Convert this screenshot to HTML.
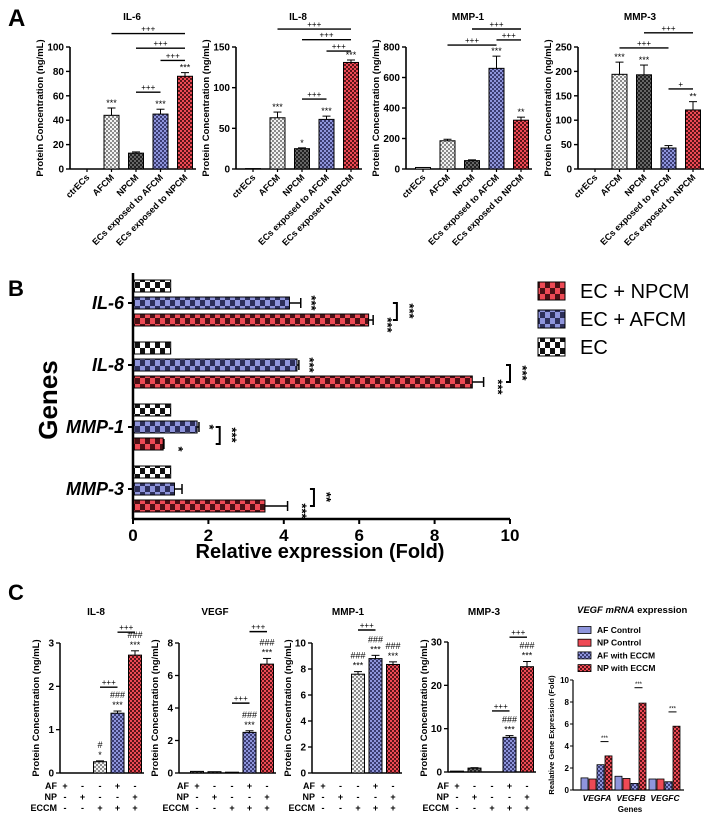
<!DOCTYPE html>
<html><head><meta charset="utf-8">
<style>
html,body{margin:0;padding:0;background:#fff;}
svg{display:block;font-family:"Liberation Sans",Arial,sans-serif;}
</style></head>
<body>
<svg id="fig" width="708" height="815" viewBox="0 0 708 815" xmlns="http://www.w3.org/2000/svg">
<defs>
<pattern id="pLight" width="4" height="4" patternUnits="userSpaceOnUse"><rect width="4" height="4" fill="#f2f2f2"/><rect width="2" height="2" fill="#8a8a8a"/><rect x="2" y="2" width="2" height="2" fill="#8a8a8a"/></pattern>
<pattern id="pDark" width="4" height="4" patternUnits="userSpaceOnUse"><rect width="4" height="4" fill="#666"/><rect width="2" height="2" fill="#222"/><rect x="2" y="2" width="2" height="2" fill="#222"/></pattern>
<pattern id="pBlue" width="4" height="4" patternUnits="userSpaceOnUse"><rect width="4" height="4" fill="#8f95dc"/><rect width="2" height="2" fill="#3b3d73"/><rect x="2" y="2" width="2" height="2" fill="#3b3d73"/></pattern>
<pattern id="pRed" width="4" height="4" patternUnits="userSpaceOnUse"><rect width="4" height="4" fill="#ee4a55"/><rect width="2" height="2" fill="#5a1418"/><rect x="2" y="2" width="2" height="2" fill="#5a1418"/></pattern>
<pattern id="bWhite" width="10" height="12" patternUnits="userSpaceOnUse"><rect width="10" height="12" fill="#fff"/><rect width="5" height="6" fill="#111"/><rect x="5" y="6" width="5" height="6" fill="#111"/></pattern>
<pattern id="bBlue" width="10" height="12" patternUnits="userSpaceOnUse"><rect width="10" height="12" fill="#8f95dc"/><rect width="5" height="6" fill="#2d2f5a"/><rect x="5" y="6" width="5" height="6" fill="#2d2f5a"/></pattern>
<pattern id="bRed" width="10" height="12" patternUnits="userSpaceOnUse"><rect width="10" height="12" fill="#ee4a55"/><rect width="5" height="6" fill="#4a1014"/><rect x="5" y="6" width="5" height="6" fill="#4a1014"/></pattern>
</defs>
<text x="8" y="26" font-size="24" font-weight="bold">A</text>
<text x="8" y="296" font-size="22" font-weight="bold">B</text>
<text x="8" y="600" font-size="22" font-weight="bold">C</text>
</svg>
<script>
// ---------- Panel A data ----------
const catsA = ['ctrECs','AFCM','NPCM','ECs exposed to AFCM','ECs exposed to NPCM'];
const il6Vals = [0, 44, 13, 45, 76];
const il6Errs = [0, 6, 1, 4, 3];
const il6Stars = ['', '***', '', '***', '***'];
const il8Vals = [0.5, 63, 25, 61, 131];
const il8Errs = [0, 7, 1, 4, 3];
const il8Stars = ['', '***', '*', '***', '***'];
const mmp1Vals = [10, 185, 55, 660, 320];
const mmp1Errs = [0, 10, 5, 80, 20];
const mmp1Stars = ['', '', '', '***', '**'];
const mmp3Vals = [0, 194, 193, 43, 121];
const mmp3Errs = [0, 25, 20, 5, 17];
const mmp3Stars = ['', '***', '***', '', '**'];
const il6Ticks = [0, 20, 40, 60, 80, 100];
const il8Ticks = [0, 50, 100, 150];
const mmp1Ticks = [0, 200, 400, 600, 800];
const mmp3Ticks = [0, 50, 100, 150, 200, 250];
const il6Sigs = [[1,4,111,'+++'],[2,4,99,'+++'],[3,4,89,'+++'],[2,3,63,'+++']];
const il8Sigs = [[1,4,172,'+++'],[2,4,159,'+++'],[3,4,145,'+++'],[2,3,86,'+++']];
const mmp1Sigs = [[2,4,918,'+++'],[3,4,846,'+++'],[1,3,813,'+++']];
const mmp3Sigs = [[2,4,279,'+++'],[1,3,248,'+++'],[3,4,164,'+']];

// ---------- Panel B data ----------
const genesB = ['IL-6','IL-8','MMP-1','MMP-3'];
const ecVals = [1, 1, 1, 1];
const afcmVals = [4.15, 4.35, 1.7, 1.1];
const afcmErrs = [0.3, 0.05, 0.05, 0.2];
const npcmVals = [6.25, 9.0, 0.8, 3.5];
const npcmErrs = [0.12, 0.3, 0.02, 0.6];
const afcmStars = ['***','***','*',''];
const npcmStars = ['***','***','*','***'];
const bracketPos = [7.0, 10.0, 2.3, 4.8];
const bracketStars = ['***','***','***','**'];
const bTicks = [0, 2, 4, 6, 8, 10];

// ---------- Panel C data ----------
const afRow = ['+','-','-','+','-'];
const npRow = ['-','+','-','-','+'];
const eccmRow = ['-','-','+','+','+'];
const cIl8Vals = [0, 0, 0.26, 1.38, 2.72];
const cIl8Errs = [0, 0, 0.02, 0.05, 0.1];
const cVegfVals = [0.1, 0.08, 0.05, 2.5, 6.7];
const cVegfErrs = [0, 0, 0, 0.1, 0.35];
const cMmp1Vals = [0, 0, 7.6, 8.8, 8.35];
const cMmp1Errs = [0, 0, 0.2, 0.25, 0.2];
const cMmp3Vals = [0.2, 0.9, 0, 8, 24.3];
const cMmp3Errs = [0, 0.1, 0, 0.4, 1.2];
const cIl8Stars = ['','','*','***','***'];
const cIl8Hash = ['','','#','###','###'];
const cVegfStars = ['','','','***','***'];
const cVegfHash = ['','','','###','###'];
const cMmp1Stars = ['','','***','***','***'];
const cMmp1Hash = ['','','###','###','###'];
const cMmp3Stars = ['','','','***','***'];
const cMmp3Hash = ['','','','###','###'];
const cIl8Ticks = [0,1,2,3];
const cVegfTicks = [0,2,4,6,8];
const cMmp1Ticks = [0,2,4,6,8,10];
const cMmp3Ticks = [0,10,20,30];
const cIl8Sigs = [[2,3,1.98,'+++'],[3,4,3.25,'+++']];
const cVegfSigs = [[2,3,4.3,'+++'],[3,4,8.7,'+++']];
const cMmp1Sigs = [[2,3,11.0,'+++']];
const cMmp3Sigs = [[2,3,14.1,'+++'],[3,4,31.1,'+++']];

// ---------- VEGF mRNA data ----------
const genesV = ['VEGFA','VEGFB','VEGFC'];
const seriesV = ['AF Control','NP Control','AF with ECCM','NP with ECCM'];
const afCtrlV = [1.1, 1.25, 1.0];
const npCtrlV = [1.0, 1.05, 1.0];
const afEccmV = [2.3, 0.6, 0.75];
const npEccmV = [3.1, 7.9, 5.8];
const vTicks = [0,2,4,6,8,10];
const vSigLevels = [4.4, 9.3, 7.1];

const svg = document.getElementById('fig');
const NS = 'http://www.w3.org/2000/svg';
function mk(tag, name, attrs, txt) {
  const e = document.createElementNS(NS, tag);
  
  
  for (const k in attrs) e.setAttribute(k, attrs[k]);
  if (txt !== undefined) e.textContent = txt;
  svg.appendChild(e);
  return e;
}
const fillsA = ['#fff','url(#pLight)','url(#pDark)','url(#pBlue)','url(#pRed)'];

// ---------- Panel A ----------
function chartA(id, title, x0, vals, errs, stars, ticks, sigs) {
  const yTop = 47, yBot = 169, max = ticks[ticks.length-1];
  const ys = v => yBot - v / max * (yBot - yTop);
  const cx = i => x0 + 17 + i * 24.5;
  mk('text', id+'-title', {x: x0+62, y: 20, 'font-size': 10, 'font-weight': 'bold', 'text-anchor': 'middle'}, title);
  mk('text', id+'-y-axis-title', {transform: `translate(${x0-27},108) rotate(-90)`, 'font-size': 9.5, 'font-weight': 'bold', 'text-anchor': 'middle'}, 'Protein Concentration (ng/mL)');
  mk('line', id+'-y-axis', {x1: x0, y1: yTop, x2: x0, y2: yBot, stroke: '#000', 'stroke-width': 1.6});
  mk('line', id+'-x-axis', {x1: x0, y1: yBot, x2: x0+126, y2: yBot, stroke: '#000', 'stroke-width': 1.6});
  ticks.forEach(t => {
    mk('line', id+'-y-tick', {x1: x0-4, y1: ys(t), x2: x0, y2: ys(t), stroke: '#000', 'stroke-width': 1.4});
    mk('text', id+'-y-tick-label', {x: x0-6, y: ys(t)+3.5, 'font-size': 10, 'font-weight': 'bold', 'text-anchor': 'end'}, t);
  });
  vals.forEach((v, i) => {
    const c = cx(i);
    mk('rect', id+'-bar', {x: c-7.5, y: ys(v), width: 15, height: yBot - ys(v), fill: fillsA[i], stroke: '#000', 'stroke-width': 1});
    if (errs[i] > 0) {
      mk('line', id+'-error-bar', {x1: c, y1: ys(v), x2: c, y2: ys(v+errs[i]), stroke: '#000', 'stroke-width': 1});
      mk('line', id+'-error-cap', {x1: c-4, y1: ys(v+errs[i]), x2: c+4, y2: ys(v+errs[i]), stroke: '#000', 'stroke-width': 1});
    }
    if (stars[i]) mk('text', id+'-significance', {x: c, y: ys(v+errs[i])-2, 'font-size': 9, 'text-anchor': 'middle'}, stars[i]);
    mk('line', id+'-x-tick', {x1: c, y1: yBot, x2: c, y2: yBot+3, stroke: '#000', 'stroke-width': 1.2});
    mk('text', id+'-x-tick-label', {transform: `translate(${c+3},${yBot+9}) rotate(-45)`, 'font-size': 9, 'font-weight': 'bold', 'text-anchor': 'end'}, catsA[i]);
  });
  sigs.forEach(s => {
    const y = ys(s[2]);
    mk('line', id+'-comparison-line', {x1: cx(s[0]), y1: y, x2: cx(s[1]), y2: y, stroke: '#000', 'stroke-width': 1.4});
    mk('text', id+'-comparison-label', {x: (cx(s[0])+cx(s[1]))/2, y: y-2, 'font-size': 8, 'text-anchor': 'middle'}, s[3]);
  });
}
chartA('a-il6', 'IL-6', 70, il6Vals, il6Errs, il6Stars, il6Ticks, il6Sigs);
chartA('a-il8', 'IL-8', 236, il8Vals, il8Errs, il8Stars, il8Ticks, il8Sigs);
chartA('a-mmp1', 'MMP-1', 406, mmp1Vals, mmp1Errs, mmp1Stars, mmp1Ticks, mmp1Sigs);
chartA('a-mmp3', 'MMP-3', 578, mmp3Vals, mmp3Errs, mmp3Stars, mmp3Ticks, mmp3Sigs);

// ---------- Panel B ----------
(function(){
  const x0 = 133, xs = v => x0 + v * 37.7, yTop = 273, yBot = 519;
  const gy = i => 303 + i * 62;
  mk('line', 'b-y-axis', {x1: x0, y1: yTop, x2: x0, y2: yBot, stroke: '#000', 'stroke-width': 2.5});
  mk('line', 'b-x-axis', {x1: x0, y1: yBot, x2: xs(10), y2: yBot, stroke: '#000', 'stroke-width': 2.5});
  bTicks.forEach(t => {
    mk('line', 'b-x-tick', {x1: xs(t), y1: yBot, x2: xs(t), y2: yBot+5, stroke: '#000', 'stroke-width': 2});
    mk('text', 'b-x-tick-label', {x: xs(t), y: yBot+22, 'font-size': 17, 'font-weight': 'bold', 'text-anchor': 'middle'}, t);
  });
  mk('text', 'b-x-axis-title', {x: 320, y: 558, 'font-size': 20, 'font-weight': 'bold', 'text-anchor': 'middle'}, 'Relative expression (Fold)');
  mk('text', 'b-y-axis-title', {transform: 'translate(57,400) rotate(-90)', 'font-size': 26, 'font-weight': 'bold', 'text-anchor': 'middle'}, 'Genes');
  const bar = (name, y, v, fill) => mk('rect', name, {x: x0+1, y: y-6, width: xs(v)-x0-1, height: 12, fill: fill, stroke: '#000', 'stroke-width': 1});
  const err = (y, v, e) => {
    mk('line', 'b-error-bar', {x1: xs(v), y1: y, x2: xs(v+e), y2: y, stroke: '#000', 'stroke-width': 1.5});
    mk('line', 'b-error-cap', {x1: xs(v+e), y1: y-5, x2: xs(v+e), y2: y+5, stroke: '#000', 'stroke-width': 1.5});
  };
  const rstar = (x, y, s) => mk('text', 'b-significance', {transform: `translate(${x},${y}) rotate(90)`, 'font-size': 13, 'font-weight': 'bold', 'text-anchor': 'middle'}, s);
  genesB.forEach((g, i) => {
    const c = gy(i);
    mk('line', 'b-y-tick', {x1: x0-5, y1: c, x2: x0, y2: c, stroke: '#000', 'stroke-width': 2});
    mk('text', 'b-gene-label', {x: x0-9, y: c+6, 'font-size': 18, 'font-weight': 'bold', 'font-style': 'italic', 'text-anchor': 'end'}, g);
    bar('b-bar-ec', c-17, ecVals[i], 'url(#bWhite)');
    bar('b-bar-afcm', c, afcmVals[i], 'url(#bBlue)');
    err(c, afcmVals[i], afcmErrs[i]);
    bar('b-bar-npcm', c+17, npcmVals[i], 'url(#bRed)');
    err(c+17, npcmVals[i], npcmErrs[i]);
    if (afcmStars[i]) rstar(xs(afcmVals[i]+afcmErrs[i])+6, c, afcmStars[i]);
    if (npcmStars[i]) rstar(xs(npcmVals[i]+npcmErrs[i])+10, c+22, npcmStars[i]);
    const bx = xs(bracketPos[i]);
    mk('path', 'b-bracket', {d: `M${bx-4},${c} H${bx} V${c+17} H${bx-4}`, fill: 'none', stroke: '#000', 'stroke-width': 2});
    rstar(bx+8, c+8, bracketStars[i]);
  });
  const leg = [['EC + NPCM','url(#bRed)'],['EC + AFCM','url(#bBlue)'],['EC','url(#bWhite)']];
  leg.forEach((l, i) => {
    const y = 291 + i * 28;
    mk('rect', 'b-legend-swatch', {x: 538, y: y-9, width: 27, height: 18, fill: l[1], stroke: '#000', 'stroke-width': 1});
    mk('text', 'b-legend-label', {x: 580, y: y+7, 'font-size': 20}, l[0]);
  });
})();

// ---------- Panel C ----------
function chartC(id, title, x0, fc, yTop, yBot, vals, errs, stars, hashes, ticks, sigs) {
  const max = ticks[ticks.length-1];
  const ys = v => yBot - v / max * (yBot - yTop);
  const cx = i => fc + i * 17.5;
  mk('text', id+'-title', {x: x0+36, y: 615, 'font-size': 10, 'font-weight': 'bold', 'text-anchor': 'middle'}, title);
  mk('text', id+'-y-axis-title', {transform: `translate(${x0-21},708) rotate(-90)`, 'font-size': 9.5, 'font-weight': 'bold', 'text-anchor': 'middle'}, 'Protein Concentration (ng/mL)');
  mk('line', id+'-y-axis', {x1: x0, y1: yTop, x2: x0, y2: yBot, stroke: '#000', 'stroke-width': 1.5});
  mk('line', id+'-x-axis', {x1: x0, y1: yBot, x2: cx(4)+9, y2: yBot, stroke: '#000', 'stroke-width': 1.5});
  ticks.forEach(t => {
    mk('line', id+'-y-tick', {x1: x0-4, y1: ys(t), x2: x0, y2: ys(t), stroke: '#000', 'stroke-width': 1.3});
    mk('text', id+'-y-tick-label', {x: x0-6, y: ys(t)+3.5, 'font-size': 10, 'font-weight': 'bold', 'text-anchor': 'end'}, t);
  });
  vals.forEach((v, i) => {
    const c = cx(i);
    if (v > 0) mk('rect', id+'-bar', {x: c-6.5, y: ys(v), width: 13, height: yBot-ys(v), fill: fillsA[i === 2 ? 1 : (i === 3 ? 3 : (i === 4 ? 4 : 2))], stroke: '#000', 'stroke-width': 1});
    if (errs[i] > 0) {
      mk('line', id+'-error-bar', {x1: c, y1: ys(v), x2: c, y2: ys(v+errs[i]), stroke: '#000', 'stroke-width': 1});
      mk('line', id+'-error-cap', {x1: c-4, y1: ys(v+errs[i]), x2: c+4, y2: ys(v+errs[i]), stroke: '#000', 'stroke-width': 1});
    }
    const top = ys(v+errs[i]) - 3;
    if (stars[i]) mk('text', id+'-significance', {x: c, y: top, 'font-size': 9, 'text-anchor': 'middle'}, stars[i]);
    if (hashes[i]) mk('text', id+'-hash-significance', {x: c, y: top-10, 'font-size': 9, 'text-anchor': 'middle'}, hashes[i]);
    mk('text', id+'-af-mark', {x: c, y: 789, 'font-size': 9, 'font-weight': 'bold', 'text-anchor': 'middle'}, afRow[i]);
    mk('text', id+'-np-mark', {x: c, y: 800, 'font-size': 9, 'font-weight': 'bold', 'text-anchor': 'middle'}, npRow[i]);
    mk('text', id+'-eccm-mark', {x: c, y: 811, 'font-size': 9, 'font-weight': 'bold', 'text-anchor': 'middle'}, eccmRow[i]);
  });
  mk('text', id+'-af-label', {x: fc-8, y: 789, 'font-size': 9, 'font-weight': 'bold', 'text-anchor': 'end'}, 'AF');
  mk('text', id+'-np-label', {x: fc-8, y: 800, 'font-size': 9, 'font-weight': 'bold', 'text-anchor': 'end'}, 'NP');
  mk('text', id+'-eccm-label', {x: fc-8, y: 811, 'font-size': 9, 'font-weight': 'bold', 'text-anchor': 'end'}, 'ECCM');
  sigs.forEach(s => {
    const y = ys(s[2]);
    mk('line', id+'-comparison-line', {x1: cx(s[0]), y1: y, x2: cx(s[1]), y2: y, stroke: '#000', 'stroke-width': 1.4});
    mk('text', id+'-comparison-label', {x: (cx(s[0])+cx(s[1]))/2, y: y-2, 'font-size': 8, 'text-anchor': 'middle'}, s[3]);
  });
}
chartC('c-il8', 'IL-8', 60, 65, 643, 773, cIl8Vals, cIl8Errs, cIl8Stars, cIl8Hash, cIl8Ticks, cIl8Sigs);
chartC('c-vegf', 'VEGF', 179, 197, 643, 773, cVegfVals, cVegfErrs, cVegfStars, cVegfHash, cVegfTicks, cVegfSigs);
chartC('c-mmp1', 'MMP-1', 312, 323, 643, 773, cMmp1Vals, cMmp1Errs, cMmp1Stars, cMmp1Hash, cMmp1Ticks, cMmp1Sigs);
chartC('c-mmp3', 'MMP-3', 448, 457, 642, 772, cMmp3Vals, cMmp3Errs, cMmp3Stars, cMmp3Hash, cMmp3Ticks, cMmp3Sigs);

// ---------- VEGF mRNA ----------
(function(){
  const x0 = 573, yTop = 680, yBot = 790, max = 10;
  const ys = v => yBot - v / max * (yBot - yTop);
  const gc = i => 597 + i * 34;
  const fills = ['#8f95dc','#ee4a55','url(#pBlue)','url(#pRed)'];
  const series = [afCtrlV, npCtrlV, afEccmV, npEccmV];
  const t = mk('text', 'v-title', {x: 577, y: 613, 'font-size': 9.5, 'font-weight': 'bold'});
  t.innerHTML = '<tspan font-style="italic">VEGF mRNA</tspan> expression';
  seriesV.forEach((s, i) => {
    const y = 630 + i * 12.7;
    mk('rect', 'v-legend-swatch', {x: 578, y: y-3.5, width: 13, height: 7, fill: fills[i], stroke: '#000', 'stroke-width': 0.8});
    mk('text', 'v-legend-label', {x: 597, y: y+3, 'font-size': 8.5, 'font-weight': 'bold'}, s);
  });
  mk('line', 'v-y-axis', {x1: x0, y1: yTop, x2: x0, y2: yBot, stroke: '#000', 'stroke-width': 1.2});
  mk('line', 'v-x-axis', {x1: x0, y1: yBot, x2: 684, y2: yBot, stroke: '#000', 'stroke-width': 1.2});
  vTicks.forEach(tk => {
    mk('line', 'v-y-tick', {x1: x0-3, y1: ys(tk), x2: x0, y2: ys(tk), stroke: '#000', 'stroke-width': 1});
    mk('text', 'v-y-tick-label', {x: x0-4, y: ys(tk)+3, 'font-size': 8, 'font-weight': 'bold', 'text-anchor': 'end'}, tk);
  });
  mk('text', 'v-y-axis-title', {transform: 'translate(554,735) rotate(-90)', 'font-size': 7.5, 'font-weight': 'bold', 'text-anchor': 'middle'}, 'Realative Gene Expression (Fold)');
  mk('text', 'v-x-axis-title', {x: 630, y: 812, 'font-size': 8, 'font-weight': 'bold', 'text-anchor': 'middle'}, 'Genes');
  genesV.forEach((g, gi) => {
    const c = gc(gi);
    series.forEach((arr, si) => {
      const bx = c - 16 + si * 8;
      mk('rect', 'v-bar', {x: bx, y: ys(arr[gi]), width: 7, height: yBot - ys(arr[gi]), fill: fills[si], stroke: '#000', 'stroke-width': 0.8});
    });
    const y = ys(vSigLevels[gi]);
    mk('line', 'v-comparison-line', {x1: c+3.5, y1: y, x2: c+11.5, y2: y, stroke: '#000', 'stroke-width': 1});
    mk('text', 'v-comparison-label', {x: c+7.5, y: y-1.5, 'font-size': 6, 'text-anchor': 'middle'}, '***');
    mk('text', 'v-gene-label', {x: c, y: 801, 'font-size': 8.5, 'font-weight': 'bold', 'font-style': 'italic', 'text-anchor': 'middle'}, g);
  });
})();
</script>
</body></html>
